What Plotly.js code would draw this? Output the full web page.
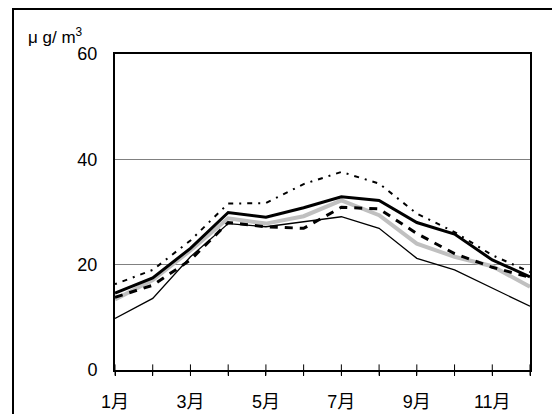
<!DOCTYPE html>
<html>
<head>
<meta charset="utf-8">
<script src="https://cdn.plot.ly/plotly-3.0.1.min.js"></script>
<style>
html,body{margin:0;padding:0;background:#fff;overflow:hidden;}
#wrap{position:relative;width:552px;height:414px;overflow:hidden;}
#chart{width:552px;height:414px;}
#frame{position:absolute;left:12px;top:8px;width:600px;height:500px;border-left:2px solid #000;border-top:2px solid #000;pointer-events:none;}
</style>
</head>
<body>
<div id="wrap"><div id="chart"></div><div id="frame"></div></div>
<script>
var months = [1,2,3,4,5,6,7,8,9,10,11,12];
var monthLabels = ["1月"," ","3月"," ","5月"," ","7月"," ","9月"," ","11月"," "];
var seriesThick = [14.6, 17.5, 23.1, 29.9, 29.0, 30.8, 32.9, 32.2, 28.0, 25.8, 20.9, 17.7];
var seriesGray  = [13.4, 17.1, 22.7, 28.8, 27.8, 29.2, 32.2, 29.4, 24.0, 21.5, 19.7, 15.8];
var seriesThin  = [9.8, 13.6, 21.5, 27.8, 27.2, 28.2, 29.1, 26.9, 21.2, 19.0, 15.5, 12.1];
var seriesDash  = [13.8, 16.1, 20.9, 28.0, 27.2, 26.9, 30.9, 30.6, 25.9, 22.1, 19.5, 17.6];
var seriesDot   = [16.3, 19.0, 24.6, 31.6, 31.7, 35.3, 37.6, 35.4, 29.7, 26.2, 21.8, 18.6];
var yTicks = [0, 20, 40, 60];
var tickBase = months.map(function () { return 0; });

var fontFam = "Liberation Sans, Arial, Noto Sans CJK JP, sans-serif";

var traces = [
  {x: months, y: seriesThin, mode: 'lines', line: {color: '#000', width: 1.3}},
  {x: months, y: seriesGray, mode: 'lines', line: {color: '#c0c0c0', width: 4}},
  {x: months, y: seriesThick, mode: 'lines', line: {color: '#000', width: 3}},
  {x: months, y: seriesDash, mode: 'lines', line: {color: '#000', width: 3, dash: '8px,7px'}},
  {x: months, y: seriesDot, mode: 'lines', line: {color: '#000', width: 2, dash: '2px,6px,5px,6px'}},
  {x: months, y: tickBase, mode: 'markers', cliponaxis: false, hoverinfo: 'skip',
   marker: {symbol: 'line-ns', size: 8, color: '#000', line: {color: '#000', width: 1}}}
];

var fx = function (px) { return (px - 115) / 415; };
var fy = function (py) { return (370 - py) / 316; };

var layout = {
  width: 552, height: 414,
  margin: {l: 115, r: 22, t: 54, b: 44},
  paper_bgcolor: '#fff', plot_bgcolor: '#fff',
  showlegend: false,
  font: {family: fontFam, size: 18, color: '#000'},
  xaxis: {
    range: [1, 12], tickvals: months, ticktext: monthLabels,
    ticks: 'outside', ticklen: 4, tickwidth: 1, tickcolor: '#000',
    showline: true, linecolor: '#000', linewidth: 2, mirror: true,
    showgrid: false, zeroline: false, ticklabelstandoff: 10,
    tickfont: {family: fontFam, size: 18}
  },
  yaxis: {
    range: [0, 60], tickvals: yTicks,
    ticks: 'outside', ticklen: 12, tickcolor: 'rgba(0,0,0,0)',
    showline: true, linecolor: '#000', linewidth: 2, mirror: true,
    showgrid: true, gridcolor: '#808080', gridwidth: 1, zeroline: false,
    tickfont: {family: fontFam, size: 18}
  },
  annotations: [
    {xref: 'paper', yref: 'paper', x: fx(26), y: fy(36), xanchor: 'left', yanchor: 'middle',
     text: 'μ g/ m<sup>3</sup>', showarrow: false, font: {family: fontFam, size: 17, color: '#000'}}
  ]
};

Plotly.newPlot('chart', traces, layout, {displayModeBar: false, staticPlot: true});
</script>
</body>
</html>
